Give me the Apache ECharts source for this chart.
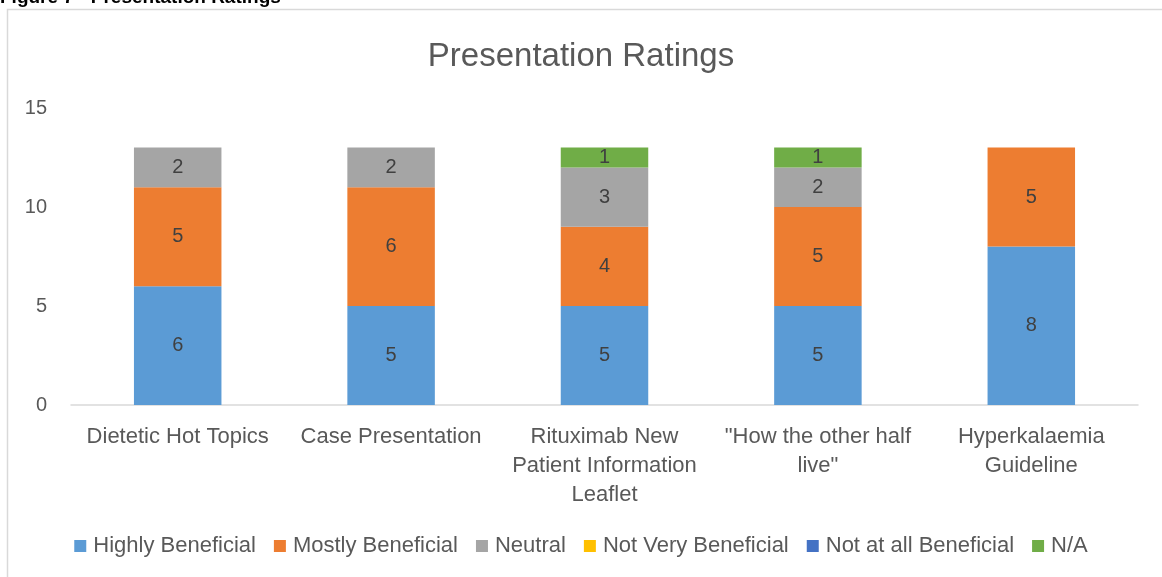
<!DOCTYPE html>
<html>
<head>
<meta charset="utf-8">
<script src="https://cdn.jsdelivr.net/npm/echarts@6/dist/echarts.min.js"></script>
<style>
  html, body { margin: 0; padding: 0; background: #fff; }
  #main { width: 1162px; height: 577px; }
</style>
</head>
<body>
<div id="main"></div>
<script>
// categories and values
const categories = ['Dietetic Hot Topics', 'Case Presentation', 'Rituximab New\nPatient Information\nLeaflet', '"How the other half\nlive"', 'Hyperkalaemia\nGuideline']
const highlyBeneficial = [6, 5, 5, 5, 8]
const mostlyBeneficial = [5, 6, 4, 5, 5]
const neutral = [2, 2, 3, 2, 0]
const notVeryBeneficial = [0, 0, 0, 0, 0]
const notAtAllBeneficial = [0, 0, 0, 0, 0]
const notApplicable = [0, 0, 1, 1, 0]
const yTicks = { min: 0, max: 15, interval: 5 }

const seriesDefs = [
    { name: 'Highly Beneficial', data: highlyBeneficial, color: '#5B9BD5' },
    { name: 'Mostly Beneficial', data: mostlyBeneficial, color: '#ED7D31' },
    { name: 'Neutral', data: neutral, color: '#A5A5A5' },
    { name: 'Not Very Beneficial', data: notVeryBeneficial, color: '#FFC000' },
    { name: 'Not at all Beneficial', data: notAtAllBeneficial, color: '#4472C4' },
    { name: 'N/A', data: notApplicable, color: '#70AD47' },
]

const font = 'Liberation Sans, Arial, sans-serif'
const chart = echarts.init(document.getElementById('main'))
chart.setOption({
    animation: false,
    textStyle: { fontFamily: font },
    title: {
        text: 'Presentation Ratings',
        left: 'center',
        top: 35,
        textStyle: { color: '#595959', fontSize: 33, fontWeight: 'normal', fontFamily: font },
    },
    graphic: [
        {
            type: 'rect',
            shape: { x: 7.5, y: 9.5, width: 1200, height: 600 },
            style: { fill: 'none', stroke: '#d9d9d9', lineWidth: 1.5 },
            silent: true,
        },
        {
            type: 'text',
            left: 0,
            top: -12,
            style: { text: 'Figure 7 - Presentation Ratings', font: 'bold 19px ' + font, fill: '#000' },
        },
    ],
    legend: {
        bottom: 15,
        left: 'center',
        itemWidth: 12,
        itemHeight: 12,
        itemGap: 18,
        icon: 'rect',
        textStyle: { color: '#595959', fontSize: 22, padding: [0, 0, 0, 2] },
        data: seriesDefs.map((s) => s.name),
    },
    grid: { left: 71, right: 24, top: 108, bottom: 172 },
    xAxis: {
        type: 'category',
        data: categories,
        axisLine: { lineStyle: { color: '#d9d9d9', width: 1.5 } },
        axisTick: { show: false },
        axisLabel: { color: '#595959', fontSize: 22, lineHeight: 29, margin: 17, interval: 0 },
    },
    yAxis: {
        type: 'value',
        min: yTicks.min,
        max: yTicks.max,
        interval: yTicks.interval,
        splitLine: { show: false },
        axisLine: { show: false },
        axisTick: { show: false },
        axisLabel: { color: '#595959', fontSize: 20, margin: 24 },
    },
    series: seriesDefs.map((s) => ({
        name: s.name,
        type: 'bar',
        stack: 'total',
        barWidth: '41%',
        data: s.data,
        itemStyle: { color: s.color },
        label: {
            show: true,
            position: 'inside',
            color: '#404040',
            fontSize: 20,
            formatter: (p) => (p.value ? p.value : ''),
        },
    })),
})
</script>
</body>
</html>
